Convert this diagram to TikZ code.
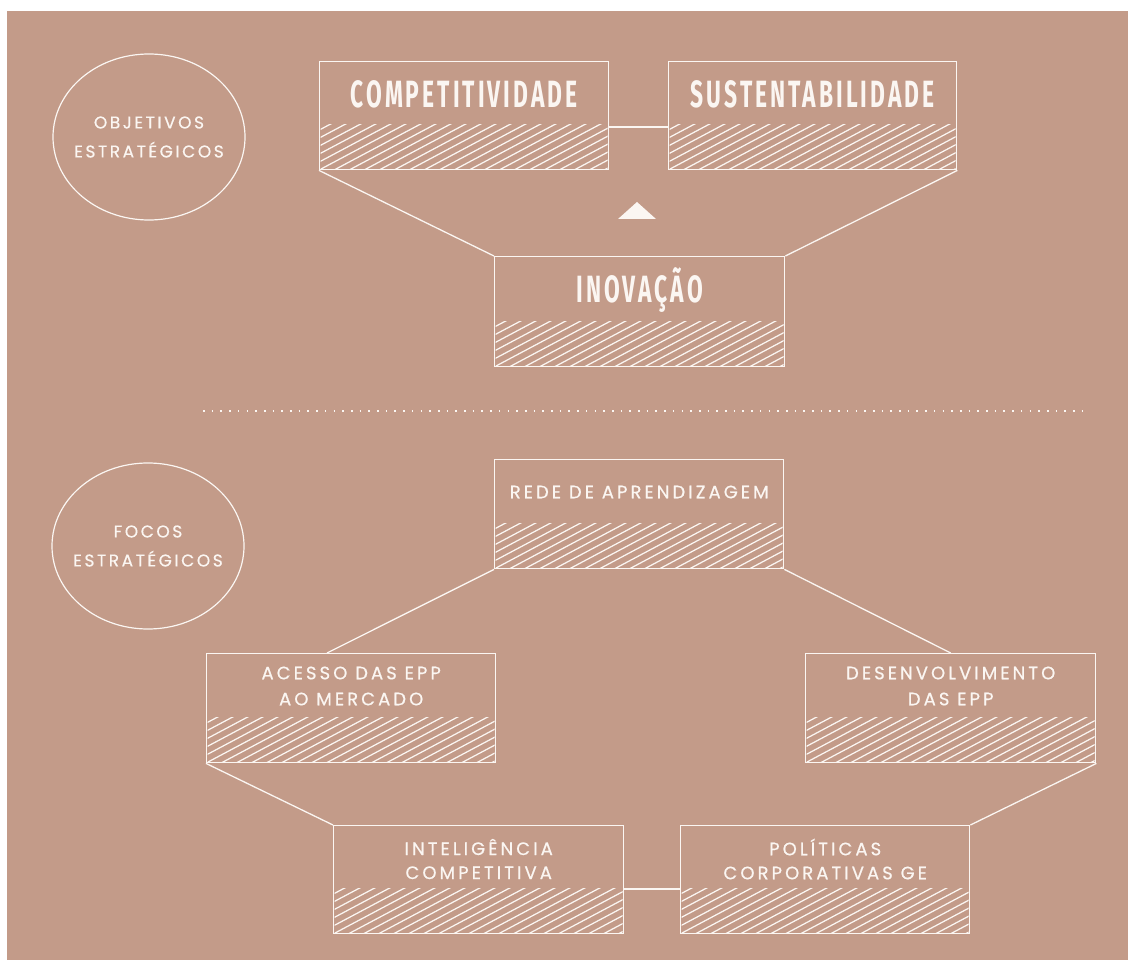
\documentclass[tikz,border=0pt]{standalone}
\usepackage{fontspec}
\setmainfont{Poppins}
\newfontfamily\titlefont[FakeStretch=0.6,LetterSpace=8]{Fira Sans}
\newfontfamily\smallfont[LetterSpace=17,FakeBold=0.6]{Poppins}
\newfontfamily\ovalfont[LetterSpace=15,FakeBold=0.6]{Poppins}
\usetikzlibrary{shapes.geometric}
\definecolor{bg}{HTML}{C39B89}
\definecolor{ink}{HTML}{FBF6F2}
\begin{document}
\begin{tikzpicture}[x=1pt,y=-1pt,
  box/.style={draw=ink, line width=1.4pt, rectangle, inner sep=0pt, anchor=north west,
    minimum width=290pt, minimum height=108pt,
    path picture={
      \begin{scope}
      \clip ([xshift=1pt]path picture bounding box.south west) rectangle ([xshift=-1pt,yshift=45pt]path picture bounding box.south east);
      \foreach \k in {-12,...,22} {
        \draw[ink, line width=1.25pt] ([xshift=\k*15pt]path picture bounding box.south west) -- ++(28:140pt);
      }
      \end{scope}
    }},
  title/.style={text=ink, inner sep=0pt, font={\titlefont\bfseries\fontsize{38}{38}\selectfont}},
  label/.style={text=ink, inner sep=0pt, align=center, font={\smallfont\fontsize{18}{26}\selectfont}},
  oval/.style={draw=ink, line width=1.2pt, ellipse, minimum width=192pt, minimum height=166pt, inner sep=0pt},
  ovaltext/.style={text=ink, inner sep=0pt, align=center, font={\ovalfont\fontsize{17}{29}\selectfont}},
  link/.style={draw=ink, line width=1.3pt}
]
\useasboundingbox (0,0) rectangle (1128,960);
\fill[bg] (7,11) rectangle (1128,960);

% circles
\node[oval] (obj) at (149,137) {};
\node[oval] (foc) at (148,546) {};
\node[ovaltext] (objt) at (obj.center) {OBJETIVOS\\ESTRATÉGICOS};
\node[ovaltext] (foct) at (foc.center) {FOCOS\\ESTRATÉGICOS};

% top boxes
\node[box, minimum width=289pt] (comp) at (319,61) {};
\node[box, minimum width=288pt] (sust) at (668,61) {};
\node[box, minimum height=110pt] (inov) at (494,256) {};
\node[title] (compt) at ([yshift=-33pt]comp.north) {COMPETITIVIDADE};
\node[title] (sustt) at ([yshift=-33pt]sust.north) {SUSTENTABILIDADE};
\node[title] (inovt) at ([yshift=-34pt]inov.north) {INOVAÇÃO};

\draw[link] ([yshift=-66pt]comp.north east) -- ([yshift=-66pt]sust.north west);
\draw[link] (comp.south west) -- (inov.north west);
\draw[link] (sust.south east) -- (inov.north east);
\fill[ink] (618,219) -- (656,219) -- (637,202) -- cycle;

% dotted separator
\coordinate (d1) at (203,411);
\coordinate (d2) at (1082,411);
\draw[ink, line width=1.6pt, dash pattern=on 1.6pt off 7.1pt] (d1) -- (d2);

% lower boxes
\node[box, minimum width=289pt, minimum height=109pt] (rede) at (494,459) {};
\node[box, minimum width=289pt, minimum height=109pt] (aces) at (206,653) {};
\node[box, minimum width=290pt, minimum height=109pt] (dese) at (805,653) {};
\node[box] (inte) at (333,825) {};
\node[box, minimum width=289pt] (poli) at (680,825) {};

\node[label] (redet) at ([yshift=-33pt]rede.north) {REDE DE APRENDIZAGEM};
\node[label] (acest) at ([yshift=-33pt]aces.north) {ACESSO DAS EPP\\AO MERCADO};
\node[label] (deset) at ([yshift=-33pt]dese.north) {DESENVOLVIMENTO\\DAS EPP};
\node[label, font={\smallfont\fontsize{18}{24}\selectfont}] (intet) at ([yshift=-34pt]inte.north) {INTELIGÊNCIA\\COMPETITIVA};
\node[label, font={\smallfont\fontsize{18}{24}\selectfont}] (polit) at ([yshift=-34pt]poli.north) {POLÍTICAS\\CORPORATIVAS GE};

\draw[link] (rede.south west) -- ([xshift=121pt]aces.north west);
\draw[link] (rede.south east) -- (dese.north);
\draw[link] (aces.south west) -- (inte.north west);
\draw[link] (dese.south east) -- (poli.north east);
\draw[link] ([yshift=-64pt]inte.north east) -- ([yshift=-64pt]poli.north west);
\end{tikzpicture}
\end{document}
